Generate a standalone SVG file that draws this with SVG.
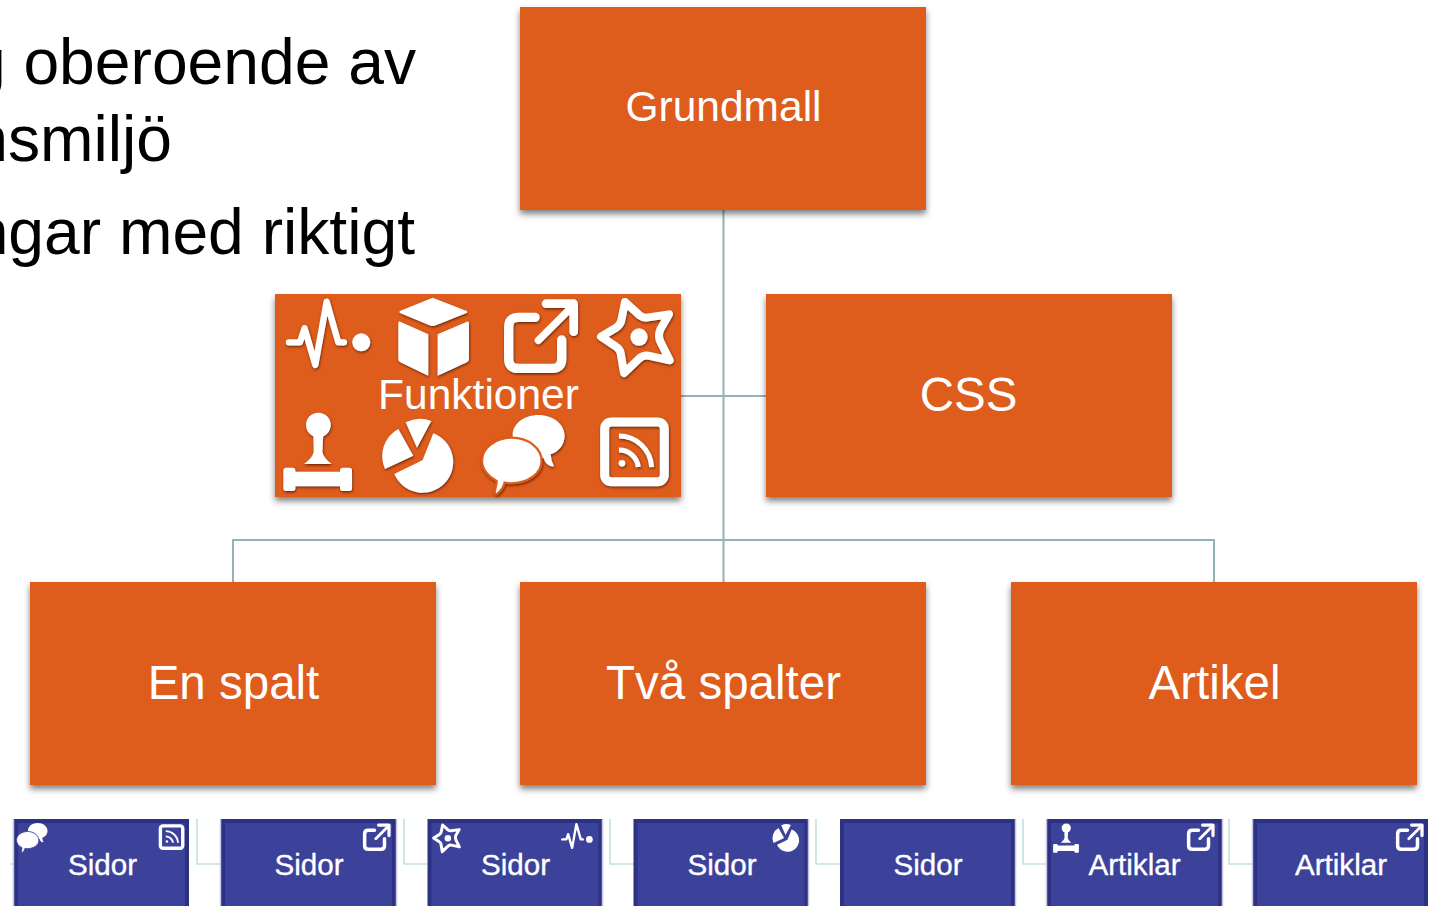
<svg xmlns="http://www.w3.org/2000/svg" width="1429" height="906" viewBox="0 0 1429 906">
<style>
text{font-family:"Liberation Sans",Arial,sans-serif}
.body{font-size:64.2px;fill:#000}
.label{fill:#fff;text-anchor:middle}
.l42{font-size:42.5px}
.l47{font-size:47.5px}
.l30{font-size:29.6px;stroke:#fff;stroke-width:.35px}
.orange{fill:#DE5C1B;filter:url(#boxShadow)}
.blue{fill:#3C429A;stroke:#2D3183;stroke-width:4}
.halo{fill:none;stroke:#C3C6DE;stroke-width:1.5}
.conn{fill:none;stroke:#93B4B6;stroke-width:2}
.subconn{fill:none;stroke:#C6DFE0;stroke-width:1.6}
.w{fill:#fff}
.ws{fill:none;stroke:#fff;stroke-linecap:round;stroke-linejoin:round}
.bigicon{filter:url(#iconShadow);color:#DE5C1B}
.smallicon{color:#3C429A}
</style>
<defs>
<filter id="boxShadow" x="-5%" y="-5%" width="110%" height="115%"><feDropShadow dx="0" dy="4" stdDeviation="3" flood-color="#000" flood-opacity=".5"/></filter>
<filter id="iconShadow" x="-15%" y="-15%" width="130%" height="130%"><feDropShadow dx="2" dy="4" stdDeviation="3" flood-color="#4a1c05" flood-opacity=".8"/></filter>
<g id="i-pulse" transform="translate(-175,-145)">
<path class="ws" stroke-width="19" d="M57 172H90L104 130L136 240L170 50L205 172H222"/>
<circle class="w" cx="274" cy="172" r="27"/>
</g>
<g id="i-cube" transform="translate(-490,-155)">
<path class="w" d="M488 38L590 78Q594 81 590 84L494 122Q488 124 482 122L390 84Q386 81 390 78Z"/>
<path class="w" d="M385 114Q385 107 391 110L475 148V270Q475 273 470 270L391 232Q385 229 385 222Z"/>
<path class="w" d="M597 114Q597 107 591 110L503 148V270Q503 273 508 270L591 232Q597 229 597 222Z"/>
</g>
<g id="i-ext" transform="translate(-815,-152)">
<path class="ws" stroke-width="28" d="M795 97H745Q716 97 716 126V222Q716 250 745 250H847Q875 250 875 222V165"/>
<path class="ws" stroke-width="22" d="M805 166L893 78"/>
<path class="ws" stroke-width="26" d="M828 56H911V140"/>
</g>
<g id="i-star" transform="translate(-1100,-155)">
<path class="ws" stroke-width="24" d="M1065 51L1110 92Q1120 100 1135 97L1197 88L1170 135Q1163 155 1172 172L1199 226L1135 212Q1120 210 1108 220L1062 264L1052 205Q1050 192 1038 185L993 155L1038 128Q1052 118 1054 105Z"/>
<circle class="w" cx="1107" cy="156" r="26"/>
</g>
<g id="i-stamp" transform="translate(-143,-500)">
<circle class="w" cx="145" cy="420" r="37"/>
<path class="w" d="M130 445H160L157 500Q160 518 185 537H102Q128 518 131 500Z"/>
<path class="w" d="M40 556Q40 548 48 548H68Q76 548 76 556V560H210V556Q210 548 218 548H238Q246 548 246 556V610Q246 618 238 618H218Q210 618 210 610V604H76V610Q76 618 68 618H48Q40 618 40 610Z"/>
</g>
<g id="i-pie" transform="translate(-445,-505)">
<path class="w" d="M490 445A92 92 0 1 1 373 567L445 532L458 525Z"/>
<path class="w" d="M430 512L345 552A93 93 0 0 1 385 432Z"/>
<path class="w" d="M441 488L407 412A95 95 0 0 1 484 408Z"/>
</g>
<g id="i-speech" transform="translate(-760,-510)">
<path class="w" d="M805 390C850 390 884 418 884 452C884 480 866 500 842 508Q844 530 852 544Q830 546 820 518Q812 518 800 516C760 510 728 480 728 450C728 415 765 390 805 390Z"/>
<path class="w" stroke="currentColor" stroke-width="7" d="M725 458C775 458 815 490 815 528C815 565 775 595 722 595Q712 595 704 593Q700 612 680 628Q672 628 676 612Q680 600 680 588C655 575 636 552 636 527C636 490 675 458 725 458Z"/>
</g>
<g id="i-rss" transform="translate(-1093,-500)">
<rect x="1004" y="411" width="179" height="179" rx="20" fill="none" stroke="#fff" stroke-width="27"/>
<circle class="w" cx="1056" cy="535" r="10"/>
<path fill="none" stroke="#fff" stroke-width="15" d="M1047 495A58 58 0 0 1 1105 546"/>
<path fill="none" stroke="#fff" stroke-width="15" d="M1047 453A98 98 0 0 1 1145 546"/>
</g>
</defs>
<rect width="1429" height="906" fill="#fff"/>
<g id="body-text">
<text class="body" x="416" y="84" text-anchor="end">g oberoende av</text>
<text class="body" x="172" y="161" text-anchor="end">nsmiljö</text>
<text class="body" x="415" y="254" text-anchor="end">ngar med riktigt</text>
</g>
<g id="connectors">
<path class="conn" d="M723.5 210V582M681 396H766M233 582V540H1214V582"/>
<path class="subconn" d="M10 864H14M197 819V864H221M404 819V864H427M610 819V864H634M816 819V864H840M1023 819V864H1047M1229 819V864H1253"/>
</g>
<g id="n-grundmall"><rect class="orange" x="520" y="7" width="406" height="203"/><text class="label l42" x="723.5" y="121">Grundmall</text></g>
<g id="n-funktioner"><rect class="orange" x="275" y="294" width="406" height="203"/>
<use href="#i-pulse" class="bigicon" transform="translate(328.3,333.3) scale(.3333)"/>
<use href="#i-cube" class="bigicon" transform="translate(433.3,336.7) scale(.3333)"/>
<use href="#i-ext" class="bigicon" transform="translate(541.7,335.7) scale(.3333)"/>
<use href="#i-star" class="bigicon" transform="translate(636.7,336.7) scale(.3333)"/>
<use href="#i-stamp" class="bigicon" transform="translate(317.7,451.7) scale(.3333)"/>
<use href="#i-pie" class="bigicon" transform="translate(418.3,453.3) scale(.3333)"/>
<use href="#i-speech" class="bigicon" transform="translate(523.3,455) scale(.3333)"/>
<use href="#i-rss" class="bigicon" transform="translate(634.3,451.7) scale(.3333)"/>
<text class="label l42" x="478.5" y="408.5">Funktioner</text></g>
<g id="n-css"><rect class="orange" x="766" y="294" width="406" height="203"/><text class="label l47" x="968.5" y="411">CSS</text></g>
<g id="n-enspalt"><rect class="orange" x="30" y="582" width="406" height="203"/><text class="label l47" x="233.5" y="699">En spalt</text></g>
<g id="n-tvaspalter"><rect class="orange" x="520" y="582" width="406" height="203"/><text class="label l47" x="723.5" y="699">Två spalter</text></g>
<g id="n-artikel"><rect class="orange" x="1011" y="582" width="406" height="203"/><text class="label l47" x="1214.5" y="699">Artikel</text></g>
<g id="n-sidor1"><rect class="blue" x="16" y="821" width="171" height="95"/><path class="halo" d="M13.5 819V906"/>
<use href="#i-speech" class="smallicon" transform="translate(32,838) scale(.125)"/><use href="#i-rss" class="smallicon" transform="translate(171.5,837) scale(.125)"/>
<text class="label l30" x="102.5" y="875">Sidor</text></g>
<g id="n-sidor2"><rect class="blue" x="223" y="821" width="171" height="95"/><path class="halo" d="M220.5 819V906M396.5 819V906"/>
<use href="#i-ext" class="smallicon" transform="translate(377,837) scale(.125)"/>
<text class="label l30" x="309" y="875">Sidor</text></g>
<g id="n-sidor3"><rect class="blue" x="429.5" y="821" width="171" height="95"/>
<use href="#i-star" class="smallicon" transform="translate(447,838) scale(.125)"/><use href="#i-pulse" class="smallicon" transform="translate(577,836) scale(.125)"/>
<text class="label l30" x="515.5" y="875">Sidor</text></g>
<g id="n-sidor4"><rect class="blue" x="635.5" y="821" width="171" height="95"/><path class="halo" d="M602.5 819V906M808.5 819V906"/>
<use href="#i-pie" class="smallicon" transform="translate(786,837) scale(.125)"/>
<text class="label l30" x="722" y="875">Sidor</text></g>
<g id="n-sidor5"><rect class="blue" x="842" y="821" width="171" height="95"/>
<text class="label l30" x="928" y="875">Sidor</text></g>
<g id="n-artiklar1"><rect class="blue" x="1049" y="821" width="171" height="95"/><path class="halo" d="M1015.5 819V906M1046.5 819V906M1222.5 819V906"/>
<use href="#i-stamp" class="smallicon" transform="translate(1066,838) scale(.125)"/><use href="#i-ext" class="smallicon" transform="translate(1201,837) scale(.125)"/>
<text class="label l30" x="1134.5" y="875">Artiklar</text></g>
<g id="n-artiklar2"><rect class="blue" x="1255" y="821" width="171" height="95"/><path class="halo" d="M1252.5 819V906"/>
<use href="#i-ext" class="smallicon" transform="translate(1410,837) scale(.125)"/>
<text class="label l30" x="1341" y="875">Artiklar</text></g>
</svg>
